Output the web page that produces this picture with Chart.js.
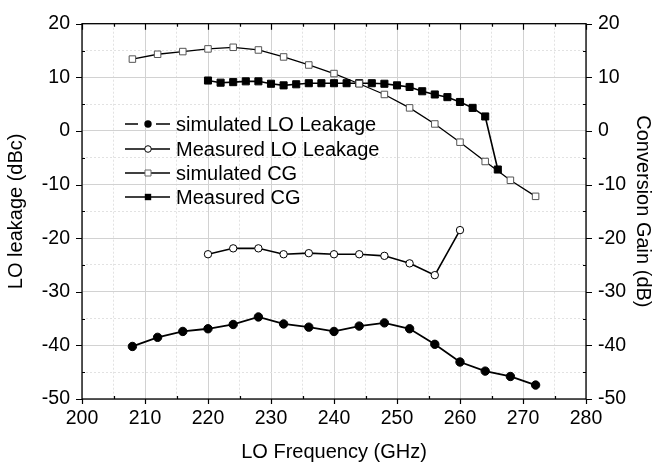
<!DOCTYPE html>
<html>
<head>
<meta charset="utf-8">
<script src="https://cdn.jsdelivr.net/npm/chart.js@4"></script>
<style>
  html, body { margin: 0; padding: 0; background: #fff; }
  #wrap { width: 657px; height: 468px; }
</style>
</head>
<body>
<div id="wrap"><canvas id="chart" width="657" height="468"></canvas></div>
<script>
// values
const simLeakFreq = [208, 212, 216, 220, 224, 228, 232, 236, 240, 244, 248, 252, 256, 260, 264, 268, 272];
const simLeak = [-40.2, -38.5, -37.4, -36.9, -36.1, -34.7, -36.0, -36.6, -37.4, -36.4, -35.8, -36.9, -39.8, -43.1, -44.8, -45.8, -47.4];

const measLeakFreq = [220, 224, 228, 232, 236, 240, 244, 248, 252, 256, 260];
const measLeak = [-23.0, -21.9, -21.9, -23.0, -22.8, -23.0, -23.0, -23.3, -24.7, -26.9, -18.5];

const simCGFreq = [208, 212, 216, 220, 224, 228, 232, 236, 240, 244, 248, 252, 256, 260, 264, 268, 272];
const simCG = [13.4, 14.3, 14.8, 15.3, 15.6, 15.1, 13.8, 12.3, 10.7, 8.8, 6.8, 4.3, 1.3, -2.1, -5.7, -9.2, -12.2];

const measCGFreq = [220, 222, 224, 226, 228, 230, 232, 234, 236, 238, 240, 242, 244, 246, 248, 250, 252, 254, 256, 258, 260, 262, 264, 266];
const measCG = [9.4, 9.0, 9.1, 9.25, 9.25, 8.8, 8.5, 8.7, 8.9, 8.9, 8.9, 8.9, 8.9, 8.9, 8.8, 8.5, 8.2, 7.4, 6.8, 6.3, 5.4, 4.3, 2.7, -7.2];

const seriesNames = ['simulated LO Leakage', 'Measured LO Leakage', 'simulated CG', 'Measured CG'];
const xTitle = 'LO Frequency (GHz)';
const yLeftTitle = 'LO leakage (dBc)';
const yRightTitle = 'Conversion Gain (dB)';

const FONT = '"Liberation Sans", Arial, sans-serif';

function pts(xs, ys) {
    return xs.map((x, i) => ({ x: x, y: ys[i] }));
}

const isMajor = v => Math.abs(v % 10) < 1e-6;

// box, tick marks and the legend inside the plot
const framePlugin = {
    id: 'frame',
    afterDatasetsDraw(chart) {
        const ctx = chart.ctx;
        const a = chart.chartArea;
        const xs = chart.scales.x;
        const ys = chart.scales.y;
        ctx.save();
        ctx.strokeStyle = '#000';
        ctx.lineWidth = 1.3;
        ctx.strokeRect(a.left, a.top, a.right - a.left, a.bottom - a.top);

        ctx.lineWidth = 1.2;
        ctx.beginPath();
        for (let v = 200; v <= 280; v += 5) {
            const px = Math.round(xs.getPixelForValue(v)) + 0.5;
            if (isMajor(v)) {
                ctx.moveTo(px, a.bottom); ctx.lineTo(px, a.bottom + 5);
                ctx.moveTo(px, a.top); ctx.lineTo(px, a.top + 6);
            } else {
                ctx.moveTo(px, a.bottom); ctx.lineTo(px, a.bottom - 3);
                ctx.moveTo(px, a.top); ctx.lineTo(px, a.top + 3);
            }
        }
        for (let v = -50; v <= 20; v += 5) {
            const py = Math.round(ys.getPixelForValue(v)) + 0.5;
            if (isMajor(v)) {
                ctx.moveTo(a.left, py); ctx.lineTo(a.left - 6, py);
                ctx.moveTo(a.right, py); ctx.lineTo(a.right + 6, py);
            } else {
                ctx.moveTo(a.left, py); ctx.lineTo(a.left + 3, py);
                ctx.moveTo(a.right, py); ctx.lineTo(a.right - 3, py);
            }
        }
        ctx.stroke();

        // legend
        const rows = [124, 149, 173, 197];
        const x0 = 125, x1 = 170, mx = 148;
        ctx.font = '20px ' + FONT;
        ctx.textBaseline = 'middle';
        ctx.textAlign = 'left';
        rows.forEach((ry, i) => {
            ctx.strokeStyle = '#000';
            ctx.lineWidth = 1.6;
            ctx.beginPath();
            if (i === 0) {
                ctx.moveTo(x0, ry); ctx.lineTo(x0 + 13, ry);
                ctx.moveTo(x1 - 14, ry); ctx.lineTo(x1, ry);
            } else {
                ctx.moveTo(x0, ry); ctx.lineTo(x1, ry);
            }
            ctx.stroke();
            ctx.lineWidth = 1;
            ctx.beginPath();
            if (i === 0) {
                ctx.arc(mx, ry, 3.7, 0, Math.PI * 2);
                ctx.fillStyle = '#000'; ctx.fill();
            } else if (i === 1) {
                ctx.arc(mx, ry, 3.3, 0, Math.PI * 2);
                ctx.fillStyle = '#fff'; ctx.fill(); ctx.stroke();
            } else if (i === 2) {
                ctx.rect(mx - 3, ry - 3, 6, 6);
                ctx.fillStyle = '#fff'; ctx.fill();
                ctx.strokeStyle = '#666'; ctx.stroke();
            } else {
                ctx.rect(mx - 3.2, ry - 3.2, 6.4, 6.4);
                ctx.fillStyle = '#000'; ctx.fill();
            }
            ctx.fillStyle = '#000';
            ctx.fillText(seriesNames[i], 176, ry + 1);
        });
        ctx.restore();
    }
};

const gridColor = c => (c.tick && isMajor(c.tick.value)) ? '#d2d2d2' : '#e2e2e2';
const gridDash = c => (c.tick && !isMajor(c.tick.value)) ? [2, 2] : [];
const tickLabel = v => isMajor(v) ? String(v) : '';

new Chart(document.getElementById('chart'), {
    type: 'line',
    data: {
        datasets: [
            {
                label: seriesNames[0],
                data: pts(simLeakFreq, simLeak),
                borderColor: '#000', borderWidth: 1.8,
                pointStyle: 'circle', pointRadius: 4.2,
                pointBackgroundColor: '#000', pointBorderColor: '#000', pointBorderWidth: 1
            },
            {
                label: seriesNames[1],
                data: pts(measLeakFreq, measLeak),
                borderColor: '#000', borderWidth: 1.6,
                pointStyle: 'circle', pointRadius: 3.7,
                pointBackgroundColor: '#fff', pointBorderColor: '#000', pointBorderWidth: 1
            },
            {
                label: seriesNames[2],
                data: pts(simCGFreq, simCG),
                borderColor: '#000', borderWidth: 1.3,
                pointStyle: 'rect', pointRadius: 4.6,
                pointBackgroundColor: '#fff', pointBorderColor: '#555', pointBorderWidth: 1
            },
            {
                label: seriesNames[3],
                data: pts(measCGFreq, measCG),
                borderColor: '#000', borderWidth: 1.6,
                pointStyle: 'rect', pointRadius: 5,
                pointBackgroundColor: '#000', pointBorderColor: '#000', pointBorderWidth: 1
            }
        ]
    },
    options: {
        responsive: false,
        animation: false,
        layout: { padding: { top: 15, left: 0, right: 0, bottom: 0 } },
        plugins: {
            legend: { display: false },
            tooltip: { enabled: false }
        },
        elements: { line: { tension: 0 } },
        scales: {
            x: {
                type: 'linear',
                min: 200, max: 280,
                afterFit: s => { s.height = 69; },
                grid: { color: gridColor, lineWidth: 1, drawTicks: false },
                border: { display: false, dash: gridDash },
                ticks: {
                    stepSize: 5, autoSkip: false, maxRotation: 0, padding: 8,
                    color: '#000', font: { family: FONT, size: 19.5 },
                    callback: tickLabel
                },
                title: {
                    display: true, text: xTitle, color: '#000',
                    font: { family: FONT, size: 20 },
                    padding: { top: 0, bottom: 4 }
                }
            },
            y: {
                type: 'linear', position: 'left',
                min: -50, max: 20,
                afterFit: s => { s.width = 82; },
                grid: { color: gridColor, lineWidth: 1, drawTicks: false },
                border: { display: false, dash: gridDash },
                ticks: {
                    stepSize: 5, autoSkip: false, padding: 12,
                    color: '#000', font: { family: FONT, size: 19.5 },
                    callback: tickLabel
                },
                title: {
                    display: true, text: yLeftTitle, color: '#000',
                    font: { family: FONT, size: 20 },
                    padding: { top: 4, bottom: 0 }
                }
            },
            y2: {
                type: 'linear', position: 'right',
                min: -50, max: 20,
                afterFit: s => { s.width = 71; },
                grid: { drawOnChartArea: false, drawTicks: false },
                border: { display: false },
                ticks: {
                    stepSize: 5, autoSkip: false, padding: 12,
                    color: '#000', font: { family: FONT, size: 19.5 },
                    callback: tickLabel
                },
                title: {
                    display: true, text: yRightTitle, color: '#000',
                    font: { family: FONT, size: 20 },
                    padding: { top: 2, bottom: 2 }
                }
            }
        }
    },
    plugins: [framePlugin]
});
</script>
</body>
</html>
